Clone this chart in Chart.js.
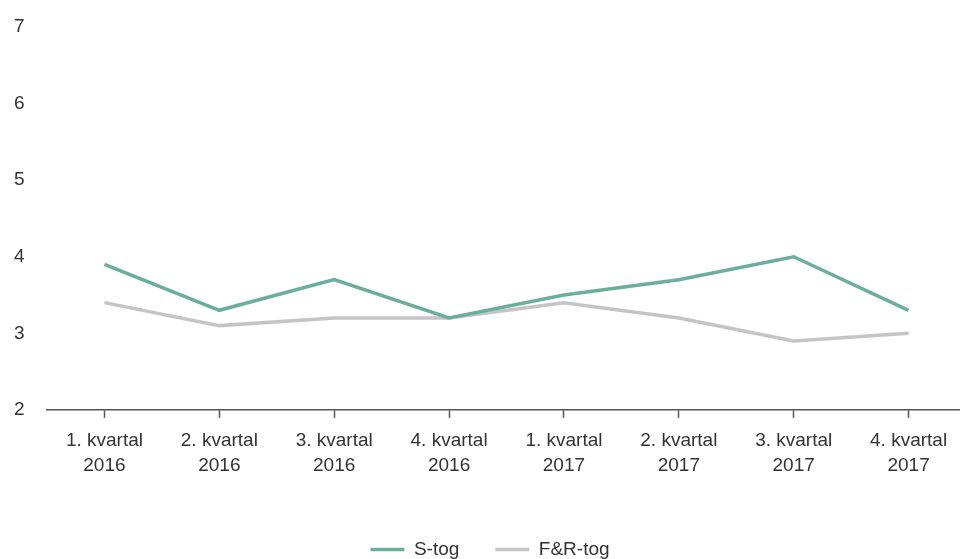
<!DOCTYPE html>
<html>
<head>
<meta charset="utf-8">
<script src="https://cdn.jsdelivr.net/npm/chart.js@4"></script>
<style>
  html, body { margin: 0; padding: 0; background: #fff; overflow: hidden; }
  #wrap { width: 966px; height: 559px; }
</style>
</head>
<body>
<div id="wrap"><canvas id="chart"></canvas></div>
<script>
const labels = [
    ["1. kvartal", "2016"], ["2. kvartal", "2016"], ["3. kvartal", "2016"], ["4. kvartal", "2016"],
    ["1. kvartal", "2017"], ["2. kvartal", "2017"], ["3. kvartal", "2017"], ["4. kvartal", "2017"]
];
const sTog = [3.9, 3.3, 3.7, 3.2, 3.5, 3.7, 4.0, 3.3];
const frTog = [3.4, 3.1, 3.2, 3.2, 3.4, 3.2, 2.9, 3.0];
const yMin = 2;
const yMax = 7;

const textColor = '#333333';
const family = "'Liberation Sans', Arial, sans-serif";

const ctx = document.getElementById('chart');

new Chart(ctx, {
    type: 'line',
    data: {
        labels: labels,
        datasets: [{
                label: 'S-tog',
                data: sTog,
                borderColor: '#6aae9c',
                backgroundColor: '#6aae9c',
                borderWidth: 3.5,
                pointRadius: 0,
                tension: 0
            },
            {
                label: 'F&R-tog',
                data: frTog,
                borderColor: '#c4c4c4',
                backgroundColor: '#c4c4c4',
                borderWidth: 3.5,
                pointRadius: 0,
                tension: 0
            }
        ]
    },
    options: {
        responsive: true,
        maintainAspectRatio: false,
        animation: false,
        layout: {
            padding: { top: 27, left: 14, right: 0, bottom: -10 }
        },
        plugins: {
            tooltip: { enabled: false },
            legend: {
                position: 'bottom',
                labels: {
                    color: textColor,
                    font: { family: family, size: 19 },
                    usePointStyle: true,
                    pointStyle: 'line',
                    pointStyleWidth: 34,
                    padding: 36
                }
            }
        },
        scales: {
            x: {
                offset: true,
                afterFit: (scale) => {
                    scale.paddingLeft = 0;
                    scale.paddingRight = 0;
                    scale.height += 16;
                },
                grid: {
                    display: true,
                    drawOnChartArea: false,
                    offset: false,
                    color: '#555555',
                    tickLength: 8,
                    tickWidth: 1.5
                },
                border: { display: true, color: '#555555', width: 1.5 },
                ticks: {
                    color: textColor,
                    font: { family: family, size: 19, lineHeight: 1.32 },
                    padding: 10,
                    maxRotation: 0,
                    autoSkip: false
                }
            },
            y: {
                min: yMin,
                max: yMax,
                afterFit: (scale) => {
                    scale.width = 33;
                },
                grid: { display: false },
                border: { display: false },
                ticks: {
                    stepSize: 1,
                    color: textColor,
                    font: { family: family, size: 19 },
                    padding: 0,
                    crossAlign: 'far'
                }
            }
        }
    }
});
</script>
</body>
</html>
